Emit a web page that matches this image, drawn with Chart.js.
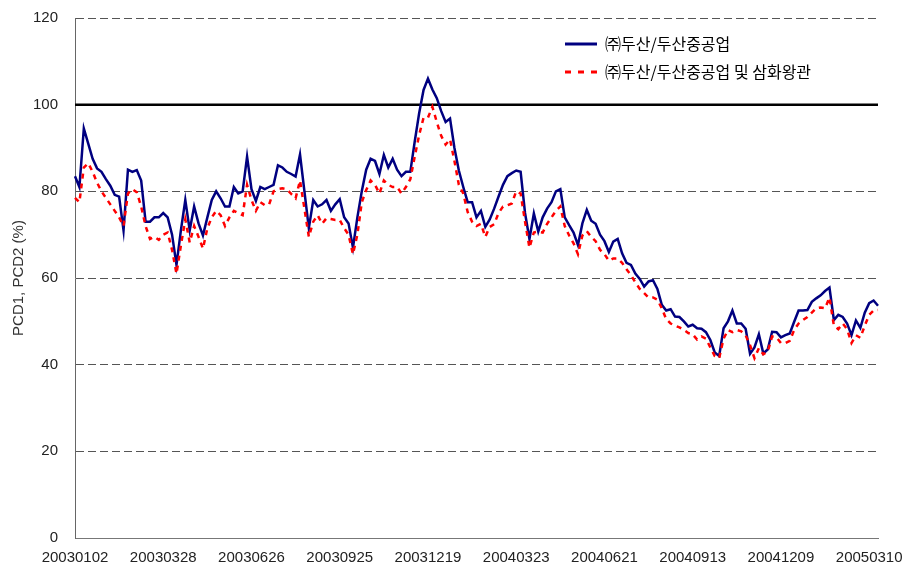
<!DOCTYPE html>
<html>
<head>
<meta charset="utf-8">
<title>PCD1, PCD2</title>
<script src="https://cdn.jsdelivr.net/npm/chart.js@4.4.1/dist/chart.umd.min.js"></script>
<style>
  html, body { margin: 0; padding: 0; background: #fff; }
  #wrap { width: 908px; height: 570px; }
</style>
</head>
<body>
<div id="wrap"><canvas id="grafico" width="908" height="570"></canvas></div>
<script>
const ctx = document.getElementById('grafico');

// x axis: one labelled date every 20 points
const tickDates = ['20030102', '20030328', '20030626', '20030925', '20031219',
                   '20040323', '20040621', '20040913', '20041209', '20050310'];
const pointsPerTick = 20;
const refLevel = 100;

const doosan = [
  83.5, 81, 94.5, 91, 87.5, 85.3, 84.5, 82.8, 81.3, 79.2,
  78.8, 71, 85, 84.5, 84.9, 82.5, 73, 73, 74, 74,
  75, 74, 70, 63, 71, 78, 71, 76.5, 72.6, 69.8,
  74, 78, 80, 78.4, 76.5, 76.5, 81, 79.5, 80, 88,
  80.5, 77.8, 81, 80.5, 81, 81.5, 86, 85.5, 84.5, 84,
  83.4, 88.5, 80, 71.5, 78, 76.5, 77, 78, 75.5, 77,
  78.2, 74, 72.6, 67, 74, 80, 85, 87.5, 87, 84,
  88.4, 85.5, 87.5, 85, 83.5, 84.5, 84.5, 91.5, 98, 103.4,
  106, 103.5, 101.5, 98.5, 96, 96.8, 90, 84.8, 81, 77.5,
  77.5, 74, 75.5, 71.8, 73.5, 76, 78.8, 81.5, 83.5, 84.2,
  84.8, 84.5, 75, 69, 74.9, 70.7, 74, 76, 77.5, 80,
  80.5, 74, 72.2, 70.5, 67.6, 72.6, 75.7, 73.2, 72.5, 70,
  68.5, 66, 68.4, 69, 65.7, 63.5, 63, 61, 59.8, 58,
  59.2, 59.5, 57.5, 53.8, 52.5, 52.8, 51.1, 51, 50, 48.8,
  49.2, 48.4, 48.3, 47.5, 45.7, 42.8, 42, 48.4, 50, 52.5,
  49.5, 49.5, 48.3, 42.5, 44, 47, 42.6, 43.5, 47.6, 47.5,
  46.3, 46.8, 47.2, 49.9, 52.5, 52.5, 52.6, 54.5, 55.3, 56,
  57, 57.8, 50.3, 51.5, 51, 49.5, 46.8, 50.2, 48.5, 52,
  54.2, 54.8, 53.6
];

const doosanSamhwa = [
  78.5, 77.5, 85.5, 86.5, 84.5, 82, 80, 78.5, 77, 75.5,
  74, 72, 79.5, 80.5, 79.8, 76.5, 72, 69, 69.5, 68.8,
  70, 70.5, 66.5, 61, 67.5, 73.5, 68.2, 72, 69.5, 66.8,
  71.5, 74, 75.5, 74.5, 72, 74, 75.5, 75, 74.5, 81.5,
  78, 75.5, 77.5, 76.8, 77, 80, 80.5, 80.7, 80.5, 79.4,
  78.4, 82.5, 76, 69.5, 73, 74.5, 72.5, 73.8, 73.6, 73.4,
  73.4, 71.5, 70, 65.5, 70, 77.5, 80.3, 82.5, 81.5, 79.5,
  82.5, 81.5, 81, 81, 79.5, 81, 82.8, 88, 93, 97,
  97, 99.5, 96, 92.8, 90.8, 92, 87, 81.5, 79.5, 75.2,
  73, 72, 72.5, 69.5, 71.8, 72.4, 75, 76.5, 76.8, 77.2,
  80, 79.5, 73, 67, 70.5, 70.7, 70.5, 72.5, 74, 75.5,
  76.5, 72, 69.8, 68, 65.5, 69.8, 70.8, 69.5, 68.5, 66.5,
  65.5, 64, 64.5, 64.5, 63.5, 62, 60.7, 59, 57.5, 56.5,
  55.5, 55.5, 55, 53, 50.5, 49.5, 49, 48.6, 48, 47.3,
  47, 45.8, 46.5, 46, 44, 42, 41.5, 46, 48, 47.5,
  48, 47.7, 46.8, 44.5, 41.5, 43.8, 42.4, 43, 46.5, 46.3,
  45, 45, 45.5, 48, 49.5, 50.3, 51, 52, 53, 53.2,
  53, 55.5, 49, 48.2, 49.5, 48.2, 45, 46.8, 46.2, 49,
  51.5, 52.5, 52.6
];

const labels = doosan.map((_, i) => i % pointsPerTick === 0 ? (tickDates[i / pointsPerTick] || '') : '');
const refLine = labels.map(() => refLevel);

// put the legend at the top right, inside the plot
const legendPos = {
  id: 'legendPos',
  beforeDraw(chart) {
    chart.legend.left = 553;
    chart.legend.top = 24;
  }
};

Chart.defaults.font.family = '"Liberation Sans", Arial, sans-serif';
Chart.defaults.font.size = 15;
Chart.defaults.color = '#222';

new Chart(ctx, {
  type: 'line',
  data: {
    labels: labels,
    datasets: [
      {
        label: '㈜두산/두산중공업',
        data: doosan,
        borderColor: '#000080',
        backgroundColor: '#000080',
        borderWidth: 2.5,
        pointRadius: 0,
        order: 1
      },
      {
        label: '㈜두산/두산중공업 및 삼화왕관',
        data: doosanSamhwa,
        borderColor: '#ff0000',
        backgroundColor: '#ff0000',
        borderWidth: 2.5,
        borderDash: [5, 5],
        pointRadius: 0,
        order: 0
      },
      {
        label: 'ref',
        data: refLine,
        borderColor: '#000',
        borderWidth: 2.5,
        pointRadius: 0,
        order: 2
      }
    ]
  },
  options: {
    responsive: false,
    animation: false,
    layout: { padding: { top: 18, right: 30, bottom: 0, left: 0 } },
    scales: {
      x: {
        type: 'category',
        grid: { display: false, drawTicks: false },
        border: { display: true, color: '#777', width: 1 },
        ticks: { autoSkip: false, maxRotation: 0, minRotation: 0, padding: 11, color: '#222' },
        afterFit(scale) { scale.height = 32; }
      },
      y: {
        min: 0,
        max: 120,
        ticks: { stepSize: 20, padding: 17, color: '#222' },
        grid: {
          drawTicks: false,
          color: (c) => c.tick && c.tick.value === 0 ? 'rgba(0,0,0,0)' : '#555',
          lineWidth: 1
        },
        border: { display: true, color: '#666', width: 1, dash: [8, 4] },
        title: {
          display: true,
          text: 'PCD1, PCD2 (%)',
          color: '#333',
          font: { size: 15 },
          padding: { top: 10, bottom: 0 }
        },
        afterFit(scale) {
          scale.width = 75;
          scale.paddingTop = 0;
          scale.paddingBottom = 0;
        }
      }
    },
    plugins: {
      tooltip: { enabled: false },
      legend: {
        position: 'chartArea',
        align: 'start',
        labels: {
          usePointStyle: true,
          pointStyle: 'line',
          pointStyleWidth: 32,
          padding: 12,
          color: '#000',
          font: { family: '"Noto Sans CJK KR", sans-serif', size: 16 },
          filter: (item) => item.datasetIndex !== 2,
          sort: (a, b) => a.datasetIndex - b.datasetIndex,
          generateLabels(chart) {
            const items = Chart.defaults.plugins.legend.labels.generateLabels(chart);
            items.forEach((item) => {
              const ds = chart.data.datasets[item.datasetIndex];
              item.lineDash = ds.borderDash ? [6, 7] : [];
              item.lineWidth = 3;
            });
            return items;
          }
        }
      }
    }
  },
  plugins: [legendPos]
});
</script>
</body>
</html>
